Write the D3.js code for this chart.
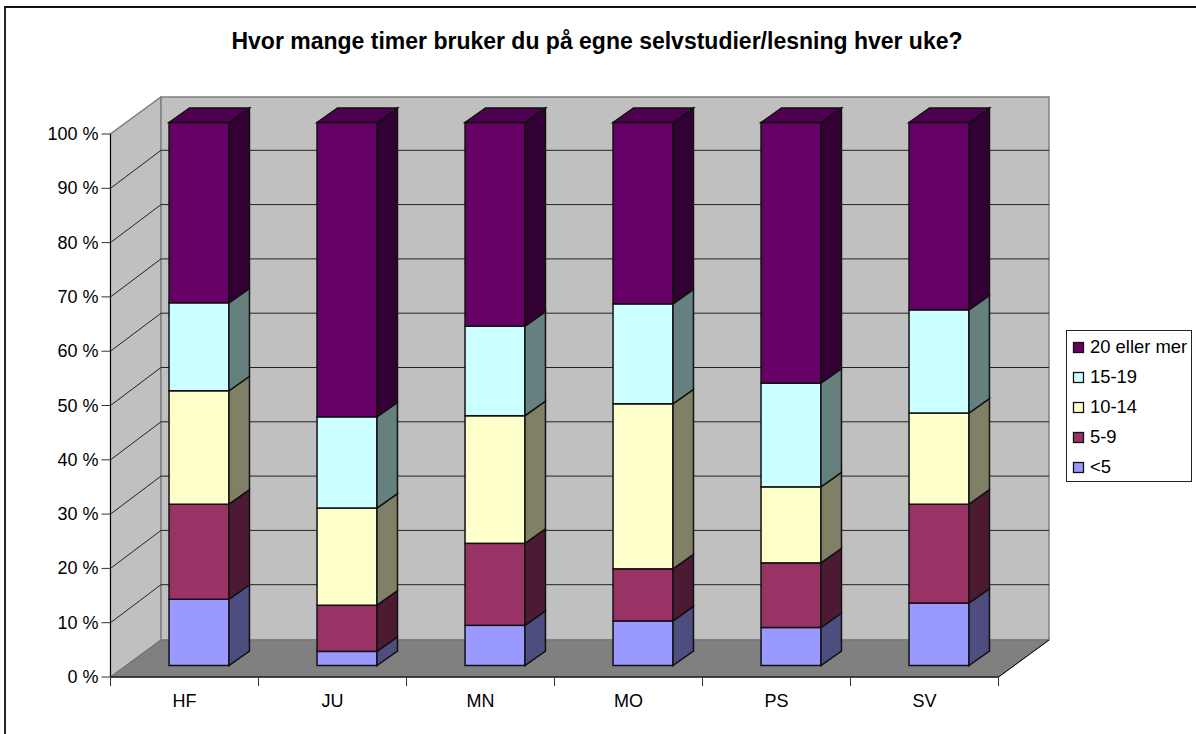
<!DOCTYPE html>
<html>
<head>
<meta charset="utf-8">
<script src="https://cdn.jsdelivr.net/npm/d3@7"></script>
<style>
  html, body { margin: 0; padding: 0; background: #fff; overflow: hidden; }
  svg { display: block; }
  text { font-family: "Liberation Sans", Arial, sans-serif; fill: #000; }
</style>
</head>
<body>
<div id="chart"></div>
<script>
var categories = ['HF', 'JU', 'MN', 'MO', 'PS', 'SV'];
var seriesNames = ['<5', '5-9', '10-14', '15-19', '20 eller mer'];
var under5 = [12.2, 2.6, 7.4, 8.2, 7.0, 11.5];
var from5to9 = [17.5, 8.5, 15.1, 9.6, 11.9, 18.2];
var from10to14 = [20.9, 17.9, 23.5, 30.4, 14.0, 16.8];
var from15to19 = [16.2, 16.8, 16.5, 18.4, 19.1, 19.0];
var over20 = [33.2, 54.2, 37.5, 33.4, 48.0, 34.5];
var yTicks = d3.range(0, 101, 10);

var faceColors = ['#9999ff', '#993366', '#ffffcc', '#ccffff', '#660066'];
var sideColors = ['#4d4d80', '#4d1a33', '#808066', '#668080', '#330033'];
var topColor = '#4d004d';

var width = 1196, height = 734;
var svg = d3.select('#chart').append('svg')
  .attr('width', width)
  .attr('height', height);

var line = d3.line();

// outer frame, only top and left are in the picture
svg.append('path')
  .attr('d', line([[5, height], [5, 7], [width, 7]]))
  .attr('fill', 'none')
  .attr('stroke', '#111')
  .attr('stroke-width', 1.8);

svg.append('text')
  .attr('x', 597).attr('y', 49)
  .attr('text-anchor', 'middle')
  .style('font-size', '23px')
  .style('font-weight', 'bold')
  .text('Hvor mange timer bruker du på egne selvstudier/lesning hver uke?');

var x = d3.scaleBand().domain(categories).range([110.5, 998.5]);
var y = d3.scaleLinear().domain([0, 100]).range([677, 134]);

// depth of the 3d box
var depthX = 50.5, depthY = -37, gridY = -38;
var barOffX = 14.5, barOffY = -11.5;
var barSideX = 20.5, barSideY = -14.5;
var barW = x.bandwidth() * 0.405;

var x0 = x.range()[0], x1 = x.range()[1];

// walls and floor
svg.append('path')
  .attr('d', line([[x0, y(0)], [x0, y(100)], [x0 + depthX, y(100) + depthY], [x0 + depthX, y(0) + depthY]]) + 'Z')
  .attr('fill', '#c0c0c0').attr('stroke', '#808080').attr('stroke-width', 1.5);
svg.append('rect')
  .attr('x', x0 + depthX).attr('y', y(100) + depthY)
  .attr('width', x1 - x0).attr('height', y(0) - y(100))
  .attr('fill', '#c0c0c0').attr('stroke', '#808080').attr('stroke-width', 1.5);
svg.append('path')
  .attr('d', line([[x0, y(0)], [x1, y(0)], [x1 + depthX, y(0) + depthY], [x0 + depthX, y(0) + depthY]]) + 'Z')
  .attr('fill', '#808080').attr('stroke', '#707070');

// gridlines on side and back wall
svg.append('g').selectAll('path')
  .data(yTicks.filter(function(d) { return d > 0 && d < 100; }))
  .enter().append('path')
  .attr('d', function(d) {
    return line([[x0, y(d)], [x0 + depthX, y(d) + gridY], [x1 + depthX, y(d) + gridY]]);
  })
  .attr('fill', 'none')
  .attr('stroke', '#222');

// dark edge on the right of floor
svg.append('path')
  .attr('d', line([[x1, y(0)], [x1 + depthX, y(0) + depthY]]))
  .attr('stroke', '#000');

// axes
svg.append('path')
  .attr('d', line([[x0, y(100)], [x0, y(0) + 9]]))
  .attr('stroke', '#000');
svg.append('path')
  .attr('d', line([[x0, y(0)], [x1, y(0)]]))
  .attr('stroke', '#222')
  .attr('stroke-width', 1.5);

var yAxis = svg.append('g');
yAxis.selectAll('path')
  .data(yTicks)
  .enter().append('path')
  .attr('d', function(d) { return line([[x0 - 9, y(d)], [x0, y(d)]]); })
  .attr('stroke', '#333');
yAxis.selectAll('text')
  .data(yTicks)
  .enter().append('text')
  .attr('x', x0 - 12)
  .attr('y', function(d) { return y(d) + 6; })
  .attr('text-anchor', 'end')
  .style('font-size', '18px')
  .text(function(d) { return d + ' %'; });

var xAxis = svg.append('g');
xAxis.selectAll('path')
  .data(categories.map(function(d) { return x(d); }).concat([x1]))
  .enter().append('path')
  .attr('d', function(d) { return line([[d, y(0)], [d, y(0) + 9]]); })
  .attr('stroke', '#333');
xAxis.selectAll('text')
  .data(categories)
  .enter().append('text')
  .attr('x', function(d) { return x(d) + x.bandwidth() / 2; })
  .attr('y', y(0) + 30)
  .attr('text-anchor', 'middle')
  .style('font-size', '18px')
  .text(function(d) { return d; });

// stacked bars
var rows = categories.map(function(c, i) {
  return { cat: c, s0: under5[i], s1: from5to9[i], s2: from10to14[i], s3: from15to19[i], s4: over20[i] };
});
var stacked = d3.stack().keys(['s0', 's1', 's2', 's3', 's4'])(rows);

function barLeft(d) {
  return x(d.data.cat) + (x.bandwidth() - barW) / 2 + barOffX;
}

stacked.forEach(function(layer, k) {
  var g = svg.append('g').attr('class', 'layer');

  g.selectAll('.front')
    .data(layer)
    .enter().append('rect')
    .attr('class', 'front')
    .attr('x', barLeft)
    .attr('y', function(d) { return y(d[1]) + barOffY; })
    .attr('width', barW)
    .attr('height', function(d) { return y(d[0]) - y(d[1]); })
    .attr('fill', faceColors[k])
    .attr('stroke', '#111')
    .attr('stroke-width', 1.5);

  g.selectAll('.side')
    .data(layer)
    .enter().append('path')
    .attr('class', 'side')
    .attr('d', function(d) {
      var r = barLeft(d) + barW;
      var b = y(d[0]) + barOffY, t = y(d[1]) + barOffY;
      return line([[r, b], [r, t], [r + barSideX, t + barSideY], [r + barSideX, b + barSideY]]) + 'Z';
    })
    .attr('fill', sideColors[k])
    .attr('stroke', '#111')
    .attr('stroke-width', 1.5);

  if (k === stacked.length - 1) {
    g.selectAll('.top')
      .data(layer)
      .enter().append('path')
      .attr('class', 'top')
      .attr('d', function(d) {
        var l = barLeft(d);
        var t = y(d[1]) + barOffY;
        return line([[l, t], [l + barW, t], [l + barW + barSideX, t + barSideY], [l + barSideX, t + barSideY]]) + 'Z';
      })
      .attr('fill', topColor)
      .attr('stroke', '#111')
      .attr('stroke-width', 1.5);
  }
});

// legend, top entry is the last series
var legend = svg.append('g');
legend.append('rect')
  .attr('x', 1066.5).attr('y', 330.5)
  .attr('width', 125).attr('height', 151)
  .attr('fill', '#fff')
  .attr('stroke', '#222');

var legendY = d3.scalePoint()
  .domain(seriesNames.slice().reverse())
  .range([347.5, 467.5]);

legend.selectAll('rect.key')
  .data(seriesNames)
  .enter().append('rect')
  .attr('class', 'key')
  .attr('x', 1073.5)
  .attr('y', function(d) { return legendY(d) - 5; })
  .attr('width', 10).attr('height', 10)
  .attr('fill', function(d, i) { return faceColors[i]; })
  .attr('stroke', '#111')
  .attr('stroke-width', 1.3);

legend.selectAll('text')
  .data(seriesNames)
  .enter().append('text')
  .attr('x', 1090)
  .attr('y', function(d) { return legendY(d) + 5.5; })
  .style('font-size', '18.4px')
  .text(function(d) { return d; });
</script>
</body>
</html>
